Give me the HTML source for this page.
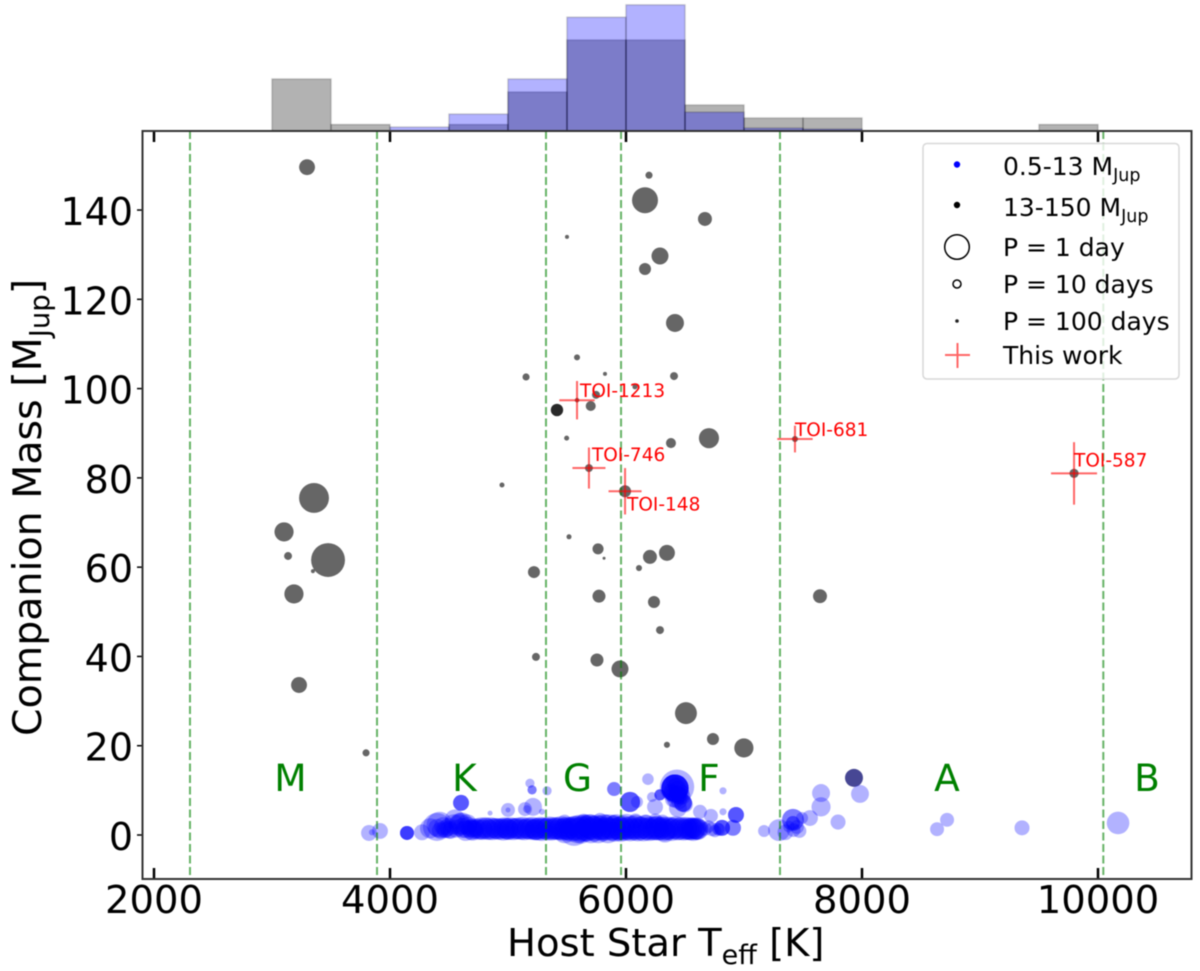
<!DOCTYPE html>
<html>
<head>
<meta charset="utf-8">
<title>Companion Mass vs Host Star Teff</title>
<style>
html,body{margin:0;padding:0;background:#fff;}
svg{display:block;filter:blur(0.45px);}
text{font-family:"DejaVu Sans","Liberation Sans",sans-serif;}
</style>
</head>
<body>
<svg id="chart" xmlns="http://www.w3.org/2000/svg" width="1200" height="971" viewBox="0 0 1200 971">
  <rect x="0" y="0" width="1200" height="971" fill="#fff"/>
  <g id="histLayer"></g>
  <g id="blackLayer"></g>
  <g id="blueLayer"></g>
  <g id="gridLayer"></g>
  <g id="errLayer"></g>
  <g id="typeLayer"></g>
  <g id="toiLayer"></g>
  <g id="tickLayer"></g>
  <rect x="142.5" y="131" width="1049" height="748" fill="none" stroke="#333" stroke-width="2"/>

  <text x="507" y="956" font-size="38.5" fill="#000">Host Star T<tspan font-size="27" dy="8">eff</tspan><tspan dy="-8"> [K]</tspan></text>
  <text transform="translate(41,736) rotate(-90)" font-size="39.5" fill="#000">Companion Mass [M<tspan font-size="27.5" dy="8">Jup</tspan><tspan dy="-8">]</tspan></text>

  <g>
    <rect x="923" y="143.5" width="256" height="235.5" rx="4" fill="#fff" fill-opacity="0.8" stroke="#d8d8d8" stroke-width="1.5"/>
    <circle cx="957" cy="164.5" r="3.2" fill="#0000ff"/>
    <text x="1003" y="175" font-size="25">0.5-13 M<tspan font-size="17.5" dy="6">Jup</tspan></text>
    <circle cx="957" cy="205" r="3.2" fill="#000"/>
    <text x="1003" y="216" font-size="25">13-150 M<tspan font-size="17.5" dy="6">Jup</tspan></text>
    <circle cx="957" cy="247" r="12.3" fill="none" stroke="#000" stroke-width="1.5"/>
    <text x="1003" y="256" font-size="25">P = 1 day</text>
    <circle cx="957" cy="284" r="4" fill="none" stroke="#000" stroke-width="1.5"/>
    <text x="1003" y="293" font-size="25">P = 10 days</text>
    <circle cx="957" cy="321" r="1.8" fill="#222"/>
    <text x="1003" y="330" font-size="25">P = 100 days</text>
    <path d="M945 355H970M957.500 343V368" stroke="#ff0000" stroke-opacity="0.6" stroke-width="2" fill="none"/>
    <text x="1003" y="364" font-size="25">This work</text>
  </g>
</svg>
<script>
// ---- histogram values (top panel) ----
var histBinStarts = [3000,3500,4000,4500,5000,5500,6000,6500,7000,7500,8000,8500,9000,9500];
var histBrownDwarf = [8,1,0,1,6,14,14,4,2,2,0,0,0,1];
var histPlanets = [0,0,0.6,2.6,8,17.5,19.4,2.9,0.45,0.3,0,0,0,0];
var histBinWidth = 500;

// ---- axis ticks ----
var xTickValues = [2000,4000,6000,8000,10000];
var yTickValues = [0,20,40,60,80,100,120,140];

// ---- spectral types ----
var boundaryTeff = [2305,3890,5322,5958,7305,10045];
var typeNames = ["M","K","G","F","A","B"];
var typeTeff = [3156,4631,5589,6703,8720,10415];

// ---- higher-mass companions ----
var blackTeff = [
3297,6195,6161,6669,5500,6161,6288,6415,5585,5153,
5822,6407,6076,5746,5701,5415,5415,5585,5497,6381,
6703,5686,5992,4949,7432,9797,3356,3102,3136,3475,
3347,3186,3229,3797,5517,5763,5814,5220,6110,6203,
6347,5771,6237,6288,5237,5754,5949,6508,6347,6737,
6999,7644,7932];
var blackMass = [
149.6,147.8,142.2,138,134,126.8,129.7,114.7,107,102.6,
103.3,102.8,100.4,98.6,96.1,95.2,95.2,97.4,88.9,87.8,
88.9,82.2,77,78.4,88.7,81,75.5,67.9,62.5,61.6,
59.1,54,33.6,18.4,66.8,64.1,62,58.9,59.8,62.3,
63.2,53.5,52.2,45.9,39.9,39.2,37.2,27.3,20.2,21.5,
19.5,53.5,12.8];
var blackPeriod = [
2.9,18,0.95,3.9,66,5.5,2.5,2.2,26,18,
66,14,40,14,8.3,5.2,5.2,50,40,8.3,
1.7,14,5.5,40,26,10,0.69,1.9,14,0.52,
66,1.9,2.9,18,40,6.6,128,5.5,26,3.9,
2.9,4.6,5.5,14,14,4.6,2.5,1.4,26,5.5,
1.9,3.9,2.2];

// ---- giant planets ----
var blueTeff = [
3822,3847,3915,4144,4144,4144,4144,4271,4398,4339,
4466,4602,4602,4602,4593,4551,4653,4500,4420,4700,
5186,5204,5204,5331,5899,5899,5000,5000,4848,5144,
5212,5161,5288,6034,6034,6034,6093,6186,6220,6246,
6288,6288,6288,6415,6415,6415,6415,6415,6415,6432,
6483,6483,6483,6398,6440,6398,6420,6450,6440,6380,
6627,6720,6822,6822,6932,6932,6932,6814,6814,6814,
6907,6907,6729,7170,7297,7415,7415,7415,7415,7449,
7492,7559,7653,7653,7797,7983,7932,8636,8721,9356,
10170,6670,6754,6700,6790,7380,7420,7470,7350,6780,
4752,4771,4783,4806,4818,4841,4855,4869,4892,4905,
4923,4938,4960,4971,4994,5006,5022,5045,5058,5072,
5091,5110,5123,5139,5160,5172,5190,5205,5226,5238,
5254,5275,5288,5302,5321,5337,5350,5372,5386,5400,
5418,5432,5450,5463,5480,5497,5510,5528,5540,5561,
5573,5590,5606,5620,5641,5655,5668,5689,5702,5718,
5730,5752,5765,5780,5800,5812,5830,5847,5860,5878,
5891,5905,5924,5940,5955,5971,5990,6003,6020,6036,
6050,6068,6082,6100,6115,6130,6148,6163,6180,6195,
6210,6228,6243,6260,6275,6290,6305,6322,6340,6355,
6370,6388,6402,6420,6435,6452,6470,6488,6505,6520,
6530,6540,6552,6562,6570,6580,6588,6595,6602,6610,
5560,5620,5700,5790,5480,5950,6260,6330,5230,4990,
5480,5640,5660,5780,5830,5900,6080,6170,6250,6310,
4400,4425,4450,4470,4495,4515,4540,4560,4590,4615,
4640,4660,4680,4700,4715,4730,4745,4690,4640,4610,
6400,6460,6470,6450,6420,6430,6480,6440,6390,6500];
var blueMass = [
0.45,0.6,0.9,0.45,0.45,0.45,0.45,0.6,1.8,1.5,
1.3,7.2,7.2,7.2,2.5,3.5,2.4,1.2,2.3,1.0,
11.6,10.1,10.1,9.9,10.3,10.3,5.6,5.6,4.9,5.8,
6.3,5.8,5.2,7.4,7.4,7.4,7.4,12.5,8.5,6.3,
9,9,9,10.5,10.5,10.5,10.5,10.5,10.5,10.8,
7.2,7.2,7.2,8,9,12,11,9,6,10,
5.2,4.3,9.9,5.2,4.5,4.5,4.5,1.6,1.6,1.6,
1.6,1.6,1.3,0.9,1.1,3.4,3.4,2.7,2.7,1.8,
3.8,3.8,9.4,6.3,2.9,9.2,12.8,1.3,3.4,1.6,
2.7,1.4,0.9,1.9,1.2,1.9,1.1,0.9,0.6,1.4,
1.3,1.5,1.2,1.6,1.4,1.2,1.6,1.3,1.5,1.4,
1.3,1.5,1.2,1.6,1.4,1.2,1.6,1.3,1.5,1.4,
1.5,1.3,1.6,1.2,1.4,1.5,1.3,1.6,1.2,1.4,
1.3,1.6,1.2,1.5,1.4,1.3,1.6,1.2,1.5,1.4,
1.5,1.3,1.6,1.2,1.4,1.5,1.3,1.6,1.1,1.4,
1.5,1.0,1.8,1.3,1.7,1.1,1.4,1.9,1.0,1.6,
1.4,1.9,1.0,1.6,1.2,1.8,1.4,1.0,1.9,1.3,
1.6,1.1,1.8,1.4,1.0,1.7,1.3,1.9,1.5,1.1,
1.7,1.3,1.8,1.1,1.5,1.6,1.2,1.8,1.4,1.2,
1.6,1.2,1.5,1.8,1.2,1.4,1.7,1.2,1.5,1.3,
1.6,1.2,1.5,1.7,1.2,1.4,1.6,1.2,1.5,1.3,
1.5,1.2,1.4,1.6,1.2,1.4,1.5,1.3,1.4,1.3,
0.9,0.5,1.8,1.2,0.7,1.5,1.5,0.7,1.2,1.4,
3.0,3.2,3.0,3.4,3.0,3.0,3.2,3.0,3.2,3.0,
1.6,1.0,2.0,1.2,1.8,1.0,2.4,1.4,2.2,1.6,
1.3,2.0,1.4,1.6,1.2,1.7,1.3,1.2,1.0,2.6,
9,8.5,9.5,7.5,8,11,8.6,10,9.5,6.8];
var bluePeriod = [
2.9,26,2.9,3.9,3.9,3.9,3.9,2.9,0.8,1.7,
2.2,2.9,2.9,2.9,1.4,1.7,1.7,2.2,0.95,1.7,
10,10,10,10,3.9,3.9,3.9,40,40,3.9,
2.2,14,26,1.7,1.7,1.7,5.5,6,8.3,2.9,
6.5,6.5,6.5,0.85,0.85,0.85,0.85,0.85,0.85,0.5,
2.2,2.2,2.2,2.9,2.2,3.9,2.9,2.9,2.2,3.9,
3.9,3.9,18,18,2.9,2.9,2.9,2.9,2.9,2.9,
2.9,2.9,3.9,5.5,1.4,1.4,1.4,3.9,3.9,3.9,
5.5,2.9,2.2,1.9,3.3,2.2,2.2,3.9,3.9,3.3,
1.3,4,5,5,5,6,4,4,3,5,
1.5,1.4,1.6,1.5,1.4,1.6,1.5,1.4,1.6,1.5,
1.5,1.6,1.4,1.5,1.4,1.6,1.5,1.4,1.6,1.5,
1.4,1.5,1.4,1.5,1.6,1.4,1.5,1.4,1.5,1.4,
1.3,1.4,1.3,1.4,1.5,1.3,1.3,1.4,1.3,1.4,
1.3,1.4,1.2,1.3,1.4,1.2,1.3,1.4,1.2,1.3,
1.0,1.0,1.1,1.0,1.0,1.2,1.0,1.1,1.0,1.1,
1.0,1.2,1.0,1.1,1.2,1.0,1.2,1.0,1.1,1.2,
1.1,1.2,1.0,1.2,1.3,1.1,1.2,1.0,1.2,1.3,
1.2,1.3,1.1,1.3,1.2,1.3,1.2,1.1,1.3,1.3,
1.3,1.4,1.2,1.3,1.4,1.3,1.4,1.3,1.2,1.4,
1.4,1.3,1.4,1.3,1.5,1.3,1.4,1.4,1.3,1.5,
1.4,1.5,1.4,1.5,1.3,1.5,1.4,1.5,1.4,1.5,
0.7,1.4,1.0,1.6,1.3,1.2,1.2,1.5,1.6,1.6,
3.9,3.9,3.6,3.9,3.6,3.9,3.6,3.9,3.6,3.9,
2.2,2.6,2.2,2.9,2.2,2.6,1.7,2.2,1.4,1.7,
2.2,2.0,2.2,2.0,2.0,2.2,2.0,1.7,1.6,1.4,
3,3,3,3,2.4,2.4,3,2,3,3];

// ---- this work ----
var toiNames = ["TOI-1213","TOI-746","TOI-148","TOI-681","TOI-587"];
var toiTeff = [5585,5686,5992,7432,9797];
var toiMass = [97.4,82.2,77,88.7,81];
var toiTeffErr = [150,140,140,150,195];
var toiMassErr = [4.3,4.6,5.2,3,7];
var toiLabelDx = [3,3,2,0,0];
var toiLabelDy = [-3,-7,19,-3,-7];

var NS = 'http://www.w3.org/2000/svg';
function xScale(t){ return 154 + (t - 2000) * 0.118; }
function yScale(m){ return 835 - m * 4.464; }
function histHeight(v){ return v * 6.5; }
function sizeFromPeriod(p){ return 12.7 * Math.pow(p, -0.44); }
function node(tag, parent){ var e = document.createElementNS(NS, tag); parent.appendChild(e); return e; }
function seg(parent, x1, y1, x2, y2, color, w){
  var l = node('line', parent);
  l.setAttribute('x1', x1); l.setAttribute('y1', y1);
  l.setAttribute('x2', x2); l.setAttribute('y2', y2);
  l.setAttribute('stroke', color); l.setAttribute('stroke-width', w);
  return l;
}

var histLayer = document.getElementById('histLayer');
function drawHist(values, fill, nameBase){
  values.forEach(function(v, i){
    if (v <= 0) return;
    var x0 = xScale(histBinStarts[i]), x1 = xScale(histBinStarts[i] + histBinWidth);
    var h = histHeight(v);
    var r = node('rect', histLayer);
    
    
    r.setAttribute('x', x0); r.setAttribute('y', 131 - h);
    r.setAttribute('width', x1 - x0); r.setAttribute('height', h);
    r.setAttribute('fill', fill); r.setAttribute('fill-opacity', '0.3');
    r.setAttribute('stroke', '#000'); r.setAttribute('stroke-opacity', '0.18');
    r.setAttribute('stroke-width', '1.5');
  });
}
drawHist(histBrownDwarf, '#000', 'hist-bar-brown-dwarf');
drawHist(histPlanets, '#0000ff', 'hist-bar-planet');

var gridLayer = document.getElementById('gridLayer');
boundaryTeff.forEach(function(t){
  var l = seg(gridLayer, xScale(t), 131, xScale(t), 879, '#008000', 2);
  l.setAttribute('stroke-opacity', '0.6');
  l.setAttribute('stroke-dasharray', '8 3.5');
  
  
});

var blueLayer = document.getElementById('blueLayer');
blueTeff.forEach(function(t, i){
  var c = node('circle', blueLayer);
  
  
  c.setAttribute('cx', xScale(t)); c.setAttribute('cy', yScale(blueMass[i]));
  c.setAttribute('r', sizeFromPeriod(bluePeriod[i]));
  c.setAttribute('fill', '#0000ff'); c.setAttribute('fill-opacity', '0.3');
});

var blackLayer = document.getElementById('blackLayer');
blackTeff.forEach(function(t, i){
  var c = node('circle', blackLayer);
  
  
  c.setAttribute('cx', xScale(t)); c.setAttribute('cy', yScale(blackMass[i]));
  c.setAttribute('r', sizeFromPeriod(blackPeriod[i]));
  c.setAttribute('fill', '#000'); c.setAttribute('fill-opacity', '0.6');
});

var errLayer = document.getElementById('errLayer');
var toiLayer = document.getElementById('toiLayer');
toiNames.forEach(function(n, i){
  var h = seg(errLayer, xScale(toiTeff[i] - toiTeffErr[i]), yScale(toiMass[i]), xScale(toiTeff[i] + toiTeffErr[i]), yScale(toiMass[i]), '#ff0000', 2);
  h.setAttribute('stroke-opacity', '0.6');
  
  
  var v = seg(errLayer, xScale(toiTeff[i]), yScale(toiMass[i] + toiMassErr[i]), xScale(toiTeff[i]), yScale(toiMass[i] - toiMassErr[i]), '#ff0000', 2);
  v.setAttribute('stroke-opacity', '0.6');
  
  
  var t = node('text', toiLayer);
  
  
  t.setAttribute('x', xScale(toiTeff[i]) + toiLabelDx[i]);
  t.setAttribute('y', yScale(toiMass[i]) + toiLabelDy[i]);
  t.setAttribute('font-size', '18.5');
  t.setAttribute('fill', '#ff0000');
  t.textContent = n;
});

var typeLayer = document.getElementById('typeLayer');
typeNames.forEach(function(n, i){
  var t = node('text', typeLayer);
  
  
  t.setAttribute('x', xScale(typeTeff[i]));
  t.setAttribute('y', 791);
  t.setAttribute('font-size', '37.5');
  t.setAttribute('fill', '#008000');
  t.setAttribute('text-anchor', 'middle');
  t.textContent = n;
});

var tickLayer = document.getElementById('tickLayer');
xTickValues.forEach(function(v){
  var x = xScale(v);
  var a = seg(tickLayer, x, 131, x, 142, '#000', 2.5);
  
  
  var b = seg(tickLayer, x, 868, x, 879, '#000', 2.5);
  
  
  var t = node('text', tickLayer);
  
  
  t.setAttribute('x', x); t.setAttribute('y', 913);
  t.setAttribute('font-size', '38.5');
  t.setAttribute('text-anchor', 'middle');
  t.textContent = String(v);
});
yTickValues.forEach(function(v){
  var y = yScale(v);
  var a = seg(tickLayer, 137, y, 142, y, '#000', 1.5);
  
  
  var t = node('text', tickLayer);
  
  
  t.setAttribute('x', 133); t.setAttribute('y', y + 15);
  t.setAttribute('font-size', '38');
  t.setAttribute('text-anchor', 'end');
  t.textContent = String(v);
});
</script>
</body>
</html>
